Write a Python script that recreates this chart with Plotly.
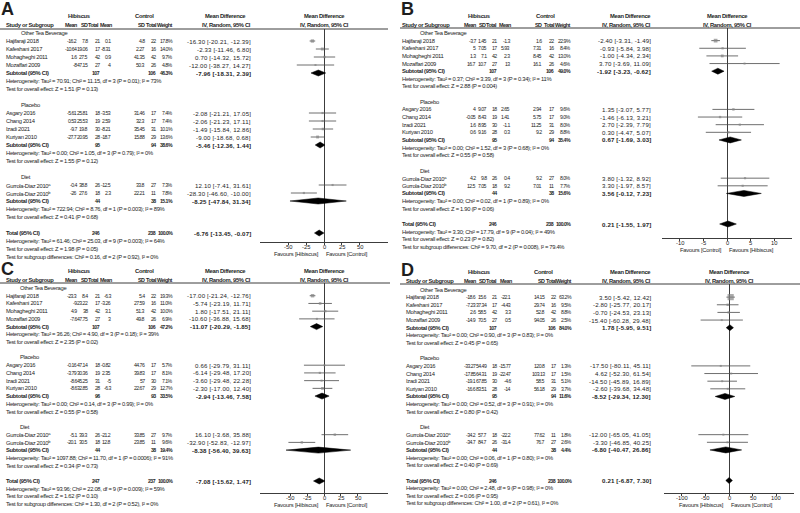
import math
import plotly.graph_objects as go

W, H = 800, 513
FONT = "Liberation Sans, Arial, sans-serif"
FS = 5.8        # body text
FS_NUM = 5.2    # narrow numeric columns
FS_CI = 6.1     # confidence-interval column
FS_HEAD = 5.4   # short column headers
LS = -0.3       # letter spacing for body text
LS_NUM = -0.55
LS_HEAD = -0.5
LS_CI = 0.15
TXT = "#1e1e1e"
LINE = "#3c3c3c"

# ---------------------------------------------------------------- data
STUDIES = ["Hajifaraji 2018", "Kafeshani 2017", "Mohagheghi 2011", "Mozaffari 2009",
           "Asgary 2016", "Chang 2014", "Izadi 2021", "Kuriyan 2010",
           "Gurrola-Diaz 2010<sup>a</sup>", "Gurrola-Diaz 2010<sup>b</sup>"]
SUBGROUPS = ["Other Tea Beverage", "Placebo", "Diet"]
GROUP_SIZES = [4, 4, 2]

# Panel A
A_HIB_MEAN = [-16.2, -10.64, 1.6, -8, -5.61, 0.53, -9.7, -27.7, -0.4, -26]
A_HIB_SD = [7.8, 19.06, 27.5, 47.15, 25.81, 25.53, 19.8, 20.95, 38.8, 27.6]
A_HIB_N = [21, 17, 42, 27, 18, 19, 30, 28, 26, 18]
A_CTL_MEAN = [0.1, -8.31, 0.9, 4, -3.53, 2.59, -8.21, -18.7, -12.5, 2.3]
A_CTL_SD = [4.8, 2.27, 41.35, 50.3, 31.46, 32.3, 35.45, 15.88, 33.8, 22.21]
A_CTL_N = [22, 16, 42, 26, 17, 17, 31, 29, 27, 11]
A_WEIGHT = [17.8, 14.0, 9.7, 4.8, 7.4, 7.4, 10.1, 13.6, 7.3, 7.8]
A_MD = [-16.30, -2.33, 0.70, -12.00, -2.08, -2.06, -1.49, -9.00, 12.10, -28.30]
A_LO = [-20.21, -11.46, -14.32, -38.27, -21.21, -21.23, -15.84, -18.68, -7.41, -46.60]
A_HI = [-12.39, 6.80, 15.72, 14.27, 17.05, 17.11, 12.86, 0.68, 31.61, -10.00]
A_SUB_HIB_N = [107, 95, 44]
A_SUB_CTL_N = [106, 94, 38]
A_SUB_WEIGHT = [46.3, 38.6, 15.1]
A_SUB_MD = [-7.96, -5.46, -8.25]
A_SUB_LO = [-18.31, -12.36, -47.84]
A_SUB_HI = [2.39, 1.44, 31.34]
A_SUB_HET = ["Tau² = 70.91; Chi² = 11.15, df = 3 (P = 0.01); I² = 73%",
             "Tau² = 0.00; Chi² = 1.05, df = 3 (P = 0.79); I² = 0%",
             "Tau² = 722.94; Chi² = 8.76, df = 1 (P = 0.003); I² = 89%"]
A_SUB_Z = ["Z = 1.51 (P = 0.13)", "Z = 1.55 (P = 0.12)", "Z = 0.41 (P = 0.68)"]
A_TOT_HIB_N, A_TOT_CTL_N, A_TOT_WEIGHT = 246, 238, 100.0
A_TOT_MD, A_TOT_LO, A_TOT_HI = -6.76, -13.45, -0.07
A_TOT_HET = "Tau² = 61.46; Chi² = 25.03, df = 9 (P = 0.003); I² = 64%"
A_TOT_Z = "Z = 1.98 (P = 0.05)"
A_SUBDIFF = "Chi² = 0.16, df = 2 (P = 0.92), I² = 0%"
A_TICKS = [-50, -25, 0, 25, 50]
A_FAVOURS = ["Favours [Hibiscus]", "Favours [Control]"]

# Panel B
B_HIB_MEAN = [-3.7, 5, 1.3, 16.7, 4, -0.05, 1.6, 0.6, 4.2, 12.5]
B_HIB_SD = [1.45, 7.05, 7.1, 10.7, 9.07, 8.43, 8.95, 9.16, 9.8, 7.05]
B_HIB_N = [21, 17, 42, 27, 18, 19, 30, 28, 26, 18]
B_CTL_MEAN = [-1.3, 5.93, 2.3, 13, 2.65, 1.41, -1.1, 0.3, 0.4, 9.2]
B_CTL_SD = [1.6, 7.31, 8.45, 16.1, 2.94, 5.75, 11.25, 9.2, 9.2, 7.01]
B_CTL_N = [22, 16, 42, 26, 17, 17, 31, 29, 27, 11]
B_WEIGHT = [22.9, 8.4, 13.0, 4.6, 9.6, 9.0, 8.0, 8.8, 8.0, 7.7]
B_MD = [-2.40, -0.93, -1.00, 3.70, 1.35, -1.46, 2.70, 0.30, 3.80, 3.30]
B_LO = [-3.31, -5.84, -4.34, -3.69, -3.07, -6.13, -2.39, -4.47, -1.32, -1.97]
B_HI = [-1.49, 3.98, 2.34, 11.09, 5.77, 3.21, 7.79, 5.07, 8.92, 8.57]
B_SUB_HIB_N = [107, 95, 44]
B_SUB_CTL_N = [106, 94, 38]
B_SUB_WEIGHT = [49.0, 35.4, 15.6]
B_SUB_MD = [-1.92, 0.67, 3.56]
B_SUB_LO = [-3.23, -1.69, -0.12]
B_SUB_HI = [-0.62, 3.03, 7.23]
B_SUB_HET = ["Tau² = 0.37; Chi² = 3.39, df = 3 (P = 0.34); I² = 11%",
             "Tau² = 0.00; Chi² = 1.52, df = 3 (P = 0.68); I² = 0%",
             "Tau² = 0.00; Chi² = 0.02, df = 1 (P = 0.89); I² = 0%"]
B_SUB_Z = ["Z = 2.88 (P = 0.004)", "Z = 0.55 (P = 0.58)", "Z = 1.90 (P = 0.06)"]
B_TOT_HIB_N, B_TOT_CTL_N, B_TOT_WEIGHT = 246, 238, 100.0
B_TOT_MD, B_TOT_LO, B_TOT_HI = 0.21, -1.55, 1.97
B_TOT_HET = "Tau² = 3.30; Chi² = 17.79, df = 9 (P = 0.04); I² = 49%"
B_TOT_Z = "Z = 0.23 (P = 0.82)"
B_SUBDIFF = "Chi² = 9.70, df = 2 (P = 0.008), I² = 79.4%"
B_TICKS = [-10, -5, 0, 5, 10]
B_FAVOURS = ["Favours [Control]", "Favours [Hibiscus]"]

# Panel C
C_HIB_MEAN = [-23.3, -9, 4.9, -7.6, -0.16, -3.79, -8.6, -8.6, -5.1, -20.1]
C_HIB_SD = [8.4, 23.22, 38, 47.75, 47.14, 30.36, 45.25, 32.85, 39.3, 30.5]
C_HIB_N = [21, 17, 42, 27, 18, 19, 31, 28, 26, 18]
C_CTL_MEAN = [-6.3, -3.26, 3.1, 3, -0.82, 2.35, -5, -6.3, -21.2, 12.8]
C_CTL_SD = [5.4, 27.59, 51.3, 49.8, 44.76, 39.83, 57, 22.67, 33.85, 23.85]
C_CTL_N = [22, 16, 42, 26, 17, 17, 30, 29, 27, 11]
C_WEIGHT = [19.3, 11.0, 10.0, 6.9, 5.7, 8.1, 7.1, 12.7, 9.7, 9.6]
C_MD = [-17.00, -5.74, 1.80, -10.60, 0.66, -6.14, -3.60, -2.30, 16.10, -32.90]
C_LO = [-21.24, -23.19, -17.51, -36.88, -29.79, -29.48, -29.48, -17.00, -3.68, -52.83]
C_HI = [-12.76, 11.71, 21.11, 15.68, 31.11, 17.20, 22.28, 12.40, 35.88, -12.97]
C_SUB_HIB_N = [107, 96, 44]
C_SUB_CTL_N = [106, 93, 38]
C_SUB_WEIGHT = [47.2, 33.5, 19.4]
C_SUB_MD = [-11.07, -2.94, -8.38]
C_SUB_LO = [-20.29, -13.46, -56.40]
C_SUB_HI = [-1.85, 7.58, 39.63]
C_SUB_HET = ["Tau² = 36.26; Chi² = 4.90, df = 3 (P = 0.18); I² = 39%",
             "Tau² = 0.00; Chi² = 0.14, df = 3 (P = 0.99); I² = 0%",
             "Tau² = 1097.88; Chi² = 11.70, df = 1 (P = 0.0006); I² = 91%"]
C_SUB_Z = ["Z = 2.35 (P = 0.02)", "Z = 0.55 (P = 0.58)", "Z = 0.34 (P = 0.73)"]
C_TOT_HIB_N, C_TOT_CTL_N, C_TOT_WEIGHT = 247, 237, 100.0
C_TOT_MD, C_TOT_LO, C_TOT_HI = -7.08, -15.62, 1.47
C_TOT_HET = "Tau² = 93.96; Chi² = 22.08, df = 9 (P = 0.009); I² = 59%"
C_TOT_Z = "Z = 1.62 (P = 0.10)"
C_SUBDIFF = "Chi² = 1.30, df = 2 (P = 0.52), I² = 0%"
C_TICKS = [-50, -25, 0, 25, 50]
C_FAVOURS = ["Favours [Hibiscus]", "Favours [Control]"]

# Panel D
D_HIB_MEAN = [-18.6, -7.23, 2.6, -14.9, -33.27, -17.85, -19.1, -16.6, -34.2, -34.7]
D_HIB_SD = [15.6, 37.34, 58.5, 70.5, 54.49, 64.31, 67.85, 83.51, 57.7, 84.7]
D_HIB_N = [21, 17, 42, 27, 18, 19, 30, 28, 18, 26]
D_CTL_MEAN = [-22.1, -4.43, 3.3, 0.5, -15.77, -22.47, -4.6, -14, -22.2, -31.4]
D_CTL_SD = [14.15, 29.74, 52.8, 94.05, 120.8, 103.13, 58.5, 56.18, 77.62, 76.7]
D_CTL_N = [22, 16, 42, 26, 17, 17, 31, 29, 11, 27]
D_WEIGHT = [63.2, 9.5, 8.8, 2.5, 1.3, 1.5, 5.1, 3.7, 1.8, 2.6]
D_MD = [3.50, -2.80, -0.70, -15.40, -17.50, 4.62, -14.50, -2.60, -12.00, -3.30]
D_LO = [-5.42, -25.77, -24.53, -60.28, -80.11, -52.30, -45.89, -39.68, -65.05, -46.85]
D_HI = [12.42, 20.17, 23.13, 29.48, 45.11, 61.54, 16.89, 34.48, 41.05, 40.25]
D_SUB_HIB_N = [107, 95, 44]
D_SUB_CTL_N = [106, 94, 38]
D_SUB_WEIGHT = [84.0, 11.6, 4.4]
D_SUB_MD = [1.78, -8.52, -6.80]
D_SUB_LO = [-5.95, -29.34, -40.47]
D_SUB_HI = [9.51, 12.30, 26.86]
D_SUB_HET = ["Tau² = 0.00; Chi² = 0.90, df = 3 (P = 0.83); I² = 0%",
             "Tau² = 0.00; Chi² = 0.52, df = 3 (P = 0.91); I² = 0%",
             "Tau² = 0.00; Chi² = 0.06, df = 1 (P = 0.80); I² = 0%"]
D_SUB_Z = ["Z = 0.45 (P = 0.65)", "Z = 0.80 (P = 0.42)", "Z = 0.40 (P = 0.69)"]
D_TOT_HIB_N, D_TOT_CTL_N, D_TOT_WEIGHT = 246, 238, 100.0
D_TOT_MD, D_TOT_LO, D_TOT_HI = 0.21, -6.87, 7.30
D_TOT_HET = "Tau² = 0.00; Chi² = 2.48, df = 9 (P = 0.98); I² = 0%"
D_TOT_Z = "Z = 0.06 (P = 0.95)"
D_SUBDIFF = "Chi² = 1.00, df = 2 (P = 0.61), I² = 0%"
D_TICKS = [-100, -50, 0, 50, 100]
D_FAVOURS = ["Favours [Hibiscus]", "Favours [Control]"]

# ---------------------------------------------------------------- assemble
def panel(p):
    g = globals()
    keys = ["HIB_MEAN", "HIB_SD", "HIB_N", "CTL_MEAN", "CTL_SD", "CTL_N", "WEIGHT", "MD", "LO", "HI",
            "SUB_HIB_N", "SUB_CTL_N", "SUB_WEIGHT", "SUB_MD", "SUB_LO", "SUB_HI", "SUB_HET", "SUB_Z",
            "TOT_HIB_N", "TOT_CTL_N", "TOT_WEIGHT", "TOT_MD", "TOT_LO", "TOT_HI", "TOT_HET", "TOT_Z",
            "SUBDIFF", "TICKS", "FAVOURS"]
    return {k.lower(): g[f"{p}_{k}"] for k in keys}

# layout geometry (pixels) for each panel
GEOM = {
    "A": dict(px=0, py=0, r0=33, s=8.0, h1=16, h2=25, line=29, line_end=388, axis=242,
              f0=260, f1=388, xr=90, letter_y=9, sx=6, gx=21,
              cols=[76.5, 88, 99.5, 111, 145, 156, 172.5, 251], hib_c=79, ctl_c=144, md_c=225),
    "B": dict(px=400, py=0, r0=33, s=7.64, h1=16, h2=25, line=28, line_end=798, axis=238,
              f0=262, f1=392, xr=13.7, letter_y=9, sx=2, gx=20,
              cols=[76, 86.5, 97.5, 110, 142, 154, 170.5, 251], hib_c=79, ctl_c=145, md_c=230),
    "C": dict(px=0, py=255, r0=33, s=7.72, h1=16, h2=25, line=28, line_end=390, axis=238,
              f0=260, f1=388, xr=95, letter_y=14, sx=6, gx=20,
              cols=[76.5, 88, 99.5, 111, 145, 156, 173, 251], hib_c=79, ctl_c=144, md_c=225),
    "D": dict(px=400, py=255, r0=34.5, s=7.64, h1=17, h2=26, line=29, line_end=798, axis=238,
              f0=264, f1=394, xr=138, letter_y=15, sx=6, gx=20,
              cols=[76, 86.5, 97.5, 111, 145, 156, 172, 251], hib_c=79, ctl_c=143, md_c=230),
}

annotations, shapes, traces = [], [], []
layout_axes = {}


def txt(x, y, s, anchor="left", bold=False, size=FS, ls=LS, xref="paper", xshift=0):
    body = f'<span style="letter-spacing:{ls}px">{s}</span>' if ls else s
    annotations.append(dict(
        x=x / W if xref == "paper" else x, y=1 - y / H, xref=xref, yref="paper", showarrow=False,
        text=f"<b>{body}</b>" if bold else body, xanchor=anchor, yanchor="middle",
        borderpad=0, borderwidth=0, xshift=xshift,
        font=dict(family=FONT, size=size, color=TXT)))


def num(x, y, s, bold=False):
    txt(x, y, s, "right", bold, size=FS_NUM, ls=LS_NUM)


def cival(x, y, s, bold=False):
    txt(x, y, s, "right", bold, size=FS_CI, ls=LS_CI)


def fmt(v):
    return f"{v:g}"


def ci(md, lo, hi):
    return f"{md:.2f} [{lo:.2f}, {hi:.2f}]"


for k, name in enumerate(["A", "B", "C", "D"], start=1):
    d = panel(name)
    G = GEOM[name]
    X0, Y0 = G["px"], G["py"]
    r0, s = G["r0"], G["s"]
    cols = [X0 + c for c in G["cols"]]

    def ypx(r):
        return Y0 + r0 + r * s

    xa = "x" if k == 1 else f"x{k}"
    ya = "y" if k == 1 else f"y{k}"
    zero_px = X0 + (G["f0"] + G["f1"]) / 2

    # panel letter
    txt(X0 + 1, Y0 + G["letter_y"], name, bold=True, size=18, ls=0)

    # headers
    txt(X0 + G["hib_c"], Y0 + G["h1"], "Hibiscus", "center", True)
    txt(X0 + G["ctl_c"], Y0 + G["h1"], "Control", "center", True)
    txt(X0 + G["md_c"], Y0 + G["h1"], "Mean Difference", "center", True)
    txt(zero_px, Y0 + G["h1"], "Mean Difference", "center", True)
    txt(X0 + G["sx"], Y0 + G["h2"], "Study or Subgroup", "left", True)
    heads = ["Mean", "SD", "Total", "Mean", "SD", "Total", "Weight"]
    nudges = [0, -0.5, -0.5, 0.5, -0.5, 0.5, 0]
    for c, lab, nd in zip(cols[:7], heads, nudges):
        txt(c + nd, Y0 + G["h2"], lab, "right", True, size=FS_HEAD, ls=LS_HEAD)
    txt(cols[7], Y0 + G["h2"], "IV, Random, 95% CI", "right", True)
    txt(zero_px, Y0 + G["h2"], "IV, Random, 95% CI", "center", True)
    shapes.append(dict(type="line", xref="paper", yref="paper",
                       x0=X0 / W, x1=(X0 + G["line_end"]) / W,
                       y0=1 - (Y0 + G["line"]) / H, y1=1 - (Y0 + G["line"]) / H,
                       line=dict(color=LINE, width=1)))

    # rows
    ci_x, ci_y, sq_x, sq_y, sq_s = [], [], [], [], []
    dia_x, dia_y = [], []
    hh = 3.0 / s

    def diamond(md, lo, hi, r):
        dia_x.extend([lo, md, hi, md, lo, None])
        dia_y.extend([r, r - hh, r, r + hh, r, None])

    r = 0
    i = 0
    for gi, (gname, gsize) in enumerate(zip(SUBGROUPS, GROUP_SIZES)):
        txt(X0 + G["gx"], ypx(r), gname)
        r += 1
        for _ in range(gsize):
            y = ypx(r)
            txt(X0 + G["sx"], y, STUDIES[i])
            vals = [fmt(d["hib_mean"][i]), fmt(d["hib_sd"][i]), str(d["hib_n"][i]),
                    fmt(d["ctl_mean"][i]), fmt(d["ctl_sd"][i]), str(d["ctl_n"][i]),
                    f"{d['weight'][i]:.1f}%"]
            for c, v in zip(cols[:7], vals):
                num(c, y, v)
            cival(cols[7], y, ci(d["md"][i], d["lo"][i], d["hi"][i]))
            ci_x.extend([d["lo"][i], d["hi"][i], None])
            ci_y.extend([r, r, None])
            sq_x.append(d["md"][i])
            sq_y.append(r)
            sq_s.append(max(2.0, 0.78 * math.sqrt(d["weight"][i])))
            i += 1
            r += 1
        y = ypx(r)
        txt(X0 + G["sx"], y, "Subtotal (95% CI)", bold=True)
        num(cols[2], y, str(d["sub_hib_n"][gi]), True)
        num(cols[5], y, str(d["sub_ctl_n"][gi]), True)
        num(cols[6], y, f"{d['sub_weight'][gi]:.1f}%", True)
        cival(cols[7], y, ci(d["sub_md"][gi], d["sub_lo"][gi], d["sub_hi"][gi]), True)
        diamond(d["sub_md"][gi], d["sub_lo"][gi], d["sub_hi"][gi], r)
        r += 1
        txt(X0 + G["sx"], ypx(r), "Heterogeneity: " + d["sub_het"][gi])
        r += 1
        txt(X0 + G["sx"], ypx(r), "Test for overall effect: " + d["sub_z"][gi])
        r += 2
    y = ypx(r)
    txt(X0 + G["sx"], y, "Total (95% CI)", bold=True)
    num(cols[2], y, str(d["tot_hib_n"]), True)
    num(cols[5], y, str(d["tot_ctl_n"]), True)
    num(cols[6], y, f"{d['tot_weight']:.1f}%", True)
    cival(cols[7], y, ci(d["tot_md"], d["tot_lo"], d["tot_hi"]), True)
    diamond(d["tot_md"], d["tot_lo"], d["tot_hi"], r)
    txt(X0 + G["sx"], ypx(r + 1), "Heterogeneity: " + d["tot_het"])
    txt(X0 + G["sx"], ypx(r + 2), "Test for overall effect: " + d["tot_z"])
    txt(X0 + G["sx"], ypx(r + 3), "Test for subgroup differences: " + d["subdiff"])

    # axis tick labels and favours labels, placed through the forest x axis
    for t in d["ticks"]:
        txt(t, Y0 + G["axis"] + 5, str(t), "center", xref=xa, ls=0)
    txt(0, Y0 + G["axis"] + 12, d["favours"][0], "right", xref=xa, xshift=-5, ls=-0.2)
    txt(0, Y0 + G["axis"] + 12, d["favours"][1], "left", xref=xa, xshift=2, ls=-0.2)

    # forest traces
    traces.append(go.Scatter(x=ci_x, y=ci_y, mode="lines", xaxis=xa, yaxis=ya,
                             line=dict(color="#4a4a4a", width=0.8), hoverinfo="skip"))
    traces.append(go.Scatter(x=sq_x, y=sq_y, mode="markers", xaxis=xa, yaxis=ya,
                             marker=dict(symbol="square", size=sq_s, color="#858585",
                                         line=dict(width=0)), hoverinfo="skip"))
    traces.append(go.Scatter(x=dia_x, y=dia_y, mode="lines", fill="toself", xaxis=xa, yaxis=ya,
                             fillcolor="#000000", line=dict(color="#000000", width=0.5),
                             hoverinfo="skip"))

    top_px = Y0 + G["line"]
    bot_px = Y0 + G["axis"]
    layout_axes["xaxis" if k == 1 else f"xaxis{k}"] = dict(
        domain=[(X0 + G["f0"]) / W, (X0 + G["f1"]) / W], range=[-G["xr"], G["xr"]],
        anchor=ya, tickvals=d["ticks"], showticklabels=False,
        ticks="outside", ticklen=2, tickwidth=1, tickcolor=LINE,
        showline=True, linecolor=LINE, linewidth=1,
        zeroline=True, zerolinecolor=LINE, zerolinewidth=1, showgrid=False, fixedrange=True)
    layout_axes["yaxis" if k == 1 else f"yaxis{k}"] = dict(
        domain=[1 - bot_px / H, 1 - top_px / H],
        range=[(bot_px - Y0 - r0) / s, (top_px - Y0 - r0) / s],
        anchor=xa, visible=False, showgrid=False, zeroline=False, fixedrange=True)

fig = go.Figure(data=traces)
fig.update_layout(
    width=W, height=H, margin=dict(l=0, r=0, t=0, b=0),
    paper_bgcolor="white", plot_bgcolor="rgba(0,0,0,0)",
    showlegend=False, annotations=annotations, shapes=shapes,
    font=dict(family=FONT, size=FS, color=TXT),
    **layout_axes)
fig.write_html("out.html", config={"displayModeBar": False},
               post_script="document.body.style.margin='0px';")
